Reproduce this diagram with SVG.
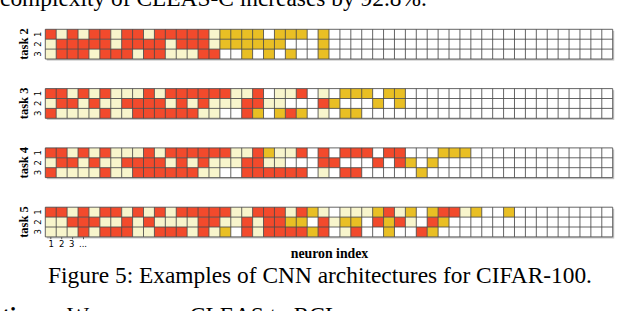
<svg xmlns="http://www.w3.org/2000/svg" xmlns:xlink="http://www.w3.org/1999/xlink" width="640" height="311" viewBox="0 0 640 311">
<style>
.r{fill:#F24A2C}
.c{fill:#F8F5CC}
.y{fill:#E9BF24}
.bg{fill:#ffffff}
.sh{fill:#c4c4c4}
.grid{fill:none;stroke:#4a4a4a;stroke-opacity:0.85;stroke-width:1}
.body{font-family:"Liberation Serif","Times New Roman",serif;font-size:23.4px;fill:#000}
.task{font-family:"Liberation Serif","Times New Roman",serif;font-size:12.5px;font-weight:bold;fill:#000}
.rl{font-family:"DejaVu Sans","Liberation Sans",sans-serif;font-size:8.5px;fill:#000}
.axis{font-family:"Liberation Serif","Times New Roman",serif;font-size:13.8px;font-weight:bold;fill:#000}
</style>
<defs>
<path id="gridlines" class="grid" vector-effect="non-scaling-stroke" d="M0 0H52M0 1H52M0 2H52M0 3H52M0 0V3M1 0V3M2 0V3M3 0V3M4 0V3M5 0V3M6 0V3M7 0V3M8 0V3M9 0V3M10 0V3M11 0V3M12 0V3M13 0V3M14 0V3M15 0V3M16 0V3M17 0V3M18 0V3M19 0V3M20 0V3M21 0V3M22 0V3M23 0V3M24 0V3M25 0V3M26 0V3M27 0V3M28 0V3M29 0V3M30 0V3M31 0V3M32 0V3M33 0V3M34 0V3M35 0V3M36 0V3M37 0V3M38 0V3M39 0V3M40 0V3M41 0V3M42 0V3M43 0V3M44 0V3M45 0V3M46 0V3M47 0V3M48 0V3M49 0V3M50 0V3M51 0V3M52 0V3"/>
<g id="base"><rect class="sh" x="0.14" y="0.16" width="52" height="3"/><rect class="bg" x="0" y="0" width="52" height="3"/></g>
</defs>

<text class="body" x="0" y="6">complexity of CLEAS-C increases by 92.8%.</text>

<g id="task2">
<text class="task" transform="translate(28,44) rotate(-90)" text-anchor="middle">task 2</text>
<g class="rl" text-anchor="middle">
<text transform="translate(40.5,34.2) rotate(-90)">1</text>
<text transform="translate(40.5,44.1) rotate(-90)">2</text>
<text transform="translate(40.5,54) rotate(-90)">3</text>
</g>
<g transform="translate(45.3,29.3) scale(10.9115,9.9)">
<use xlink:href="#base"/>
<rect class="r" x="0" y="0" width="1" height="1"/><rect class="c" x="1" y="0" width="1" height="1"/><rect class="r" x="2" y="0" width="1" height="1"/><rect class="c" x="3" y="0" width="1" height="1"/><rect class="r" x="4" y="0" width="2" height="1"/><rect class="c" x="6" y="0" width="1" height="1"/><rect class="r" x="7" y="0" width="2" height="1"/><rect class="c" x="9" y="0" width="1" height="1"/><rect class="r" x="10" y="0" width="5" height="1"/><rect class="c" x="15" y="0" width="1" height="1"/><rect class="y" x="16" y="0" width="4" height="1"/><rect class="y" x="21" y="0" width="3" height="1"/><rect class="y" x="25" y="0" width="1" height="1"/>
<rect class="c" x="0" y="1" width="1" height="1"/><rect class="r" x="1" y="1" width="5" height="1"/><rect class="c" x="6" y="1" width="1" height="1"/><rect class="r" x="7" y="1" width="4" height="1"/><rect class="c" x="11" y="1" width="1" height="1"/><rect class="r" x="12" y="1" width="3" height="1"/><rect class="c" x="15" y="1" width="1" height="1"/><rect class="y" x="16" y="1" width="6" height="1"/><rect class="y" x="25" y="1" width="1" height="1"/>
<rect class="c" x="0" y="2" width="1" height="1"/><rect class="r" x="1" y="2" width="3" height="1"/><rect class="c" x="4" y="2" width="1" height="1"/><rect class="r" x="5" y="2" width="3" height="1"/><rect class="c" x="8" y="2" width="1" height="1"/><rect class="r" x="9" y="2" width="2" height="1"/><rect class="c" x="11" y="2" width="3" height="1"/><rect class="r" x="14" y="2" width="2" height="1"/><rect class="y" x="18" y="2" width="1" height="1"/><rect class="y" x="20" y="2" width="1" height="1"/><rect class="y" x="22" y="2" width="1" height="1"/><rect class="y" x="25" y="2" width="1" height="1"/>
<use xlink:href="#gridlines"/>
</g>
</g>

<g id="task3">
<text class="task" transform="translate(28,103.4) rotate(-90)" text-anchor="middle">task 3</text>
<g class="rl" text-anchor="middle">
<text transform="translate(40.5,93.5) rotate(-90)">1</text>
<text transform="translate(40.5,103.4) rotate(-90)">2</text>
<text transform="translate(40.5,113.3) rotate(-90)">3</text>
</g>
<g transform="translate(45.3,88.6) scale(10.9115,9.9)">
<use xlink:href="#base"/>
<rect class="r" x="0" y="0" width="2" height="1"/><rect class="c" x="2" y="0" width="1" height="1"/><rect class="r" x="3" y="0" width="1" height="1"/><rect class="c" x="4" y="0" width="1" height="1"/><rect class="r" x="5" y="0" width="1" height="1"/><rect class="c" x="6" y="0" width="3" height="1"/><rect class="r" x="9" y="0" width="1" height="1"/><rect class="c" x="10" y="0" width="1" height="1"/><rect class="r" x="11" y="0" width="6" height="1"/><rect class="c" x="17" y="0" width="2" height="1"/><rect class="r" x="19" y="0" width="1" height="1"/><rect class="c" x="21" y="0" width="2" height="1"/><rect class="r" x="23" y="0" width="1" height="1"/><rect class="c" x="25" y="0" width="1" height="1"/><rect class="y" x="27" y="0" width="3" height="1"/><rect class="y" x="31" y="0" width="2" height="1"/>
<rect class="c" x="0" y="1" width="1" height="1"/><rect class="r" x="1" y="1" width="2" height="1"/><rect class="c" x="3" y="1" width="1" height="1"/><rect class="r" x="4" y="1" width="1" height="1"/><rect class="c" x="5" y="1" width="2" height="1"/><rect class="r" x="7" y="1" width="4" height="1"/><rect class="c" x="11" y="1" width="1" height="1"/><rect class="r" x="12" y="1" width="1" height="1"/><rect class="c" x="13" y="1" width="1" height="1"/><rect class="r" x="14" y="1" width="1" height="1"/><rect class="c" x="15" y="1" width="3" height="1"/><rect class="r" x="18" y="1" width="2" height="1"/><rect class="c" x="20" y="1" width="2" height="1"/><rect class="r" x="25" y="1" width="1" height="1"/><rect class="y" x="26" y="1" width="1" height="1"/><rect class="y" x="30" y="1" width="1" height="1"/><rect class="y" x="32" y="1" width="1" height="1"/>
<rect class="r" x="0" y="2" width="1" height="1"/><rect class="c" x="1" y="2" width="4" height="1"/><rect class="r" x="5" y="2" width="1" height="1"/><rect class="c" x="6" y="2" width="2" height="1"/><rect class="r" x="8" y="2" width="6" height="1"/><rect class="c" x="14" y="2" width="2" height="1"/><rect class="r" x="18" y="2" width="1" height="1"/><rect class="y" x="19" y="2" width="1" height="1"/><rect class="y" x="21" y="2" width="1" height="1"/><rect class="r" x="22" y="2" width="1" height="1"/><rect class="y" x="23" y="2" width="1" height="1"/><rect class="c" x="25" y="2" width="1" height="1"/><rect class="y" x="27" y="2" width="2" height="1"/>
<use xlink:href="#gridlines"/>
</g>
</g>

<g id="task4">
<text class="task" transform="translate(28,162.7) rotate(-90)" text-anchor="middle">task 4</text>
<g class="rl" text-anchor="middle">
<text transform="translate(40.5,152.8) rotate(-90)">1</text>
<text transform="translate(40.5,162.7) rotate(-90)">2</text>
<text transform="translate(40.5,172.6) rotate(-90)">3</text>
</g>
<g transform="translate(45.3,147.9) scale(10.9115,9.9)">
<use xlink:href="#base"/>
<rect class="r" x="0" y="0" width="2" height="1"/><rect class="c" x="2" y="0" width="1" height="1"/><rect class="r" x="3" y="0" width="1" height="1"/><rect class="c" x="4" y="0" width="1" height="1"/><rect class="r" x="5" y="0" width="1" height="1"/><rect class="c" x="6" y="0" width="3" height="1"/><rect class="r" x="9" y="0" width="1" height="1"/><rect class="c" x="10" y="0" width="1" height="1"/><rect class="r" x="11" y="0" width="6" height="1"/><rect class="c" x="17" y="0" width="2" height="1"/><rect class="r" x="19" y="0" width="1" height="1"/><rect class="y" x="20" y="0" width="1" height="1"/><rect class="c" x="21" y="0" width="2" height="1"/><rect class="r" x="23" y="0" width="1" height="1"/><rect class="r" x="25" y="0" width="1" height="1"/><rect class="r" x="27" y="0" width="3" height="1"/><rect class="r" x="31" y="0" width="2" height="1"/><rect class="y" x="36" y="0" width="3" height="1"/>
<rect class="c" x="0" y="1" width="1" height="1"/><rect class="r" x="1" y="1" width="2" height="1"/><rect class="c" x="3" y="1" width="1" height="1"/><rect class="r" x="4" y="1" width="1" height="1"/><rect class="c" x="5" y="1" width="2" height="1"/><rect class="r" x="7" y="1" width="4" height="1"/><rect class="c" x="11" y="1" width="1" height="1"/><rect class="r" x="12" y="1" width="1" height="1"/><rect class="c" x="13" y="1" width="1" height="1"/><rect class="r" x="14" y="1" width="1" height="1"/><rect class="c" x="15" y="1" width="3" height="1"/><rect class="r" x="18" y="1" width="2" height="1"/><rect class="c" x="20" y="1" width="2" height="1"/><rect class="r" x="25" y="1" width="2" height="1"/><rect class="r" x="30" y="1" width="1" height="1"/><rect class="r" x="32" y="1" width="1" height="1"/><rect class="y" x="33" y="1" width="1" height="1"/><rect class="y" x="35" y="1" width="1" height="1"/>
<rect class="r" x="0" y="2" width="1" height="1"/><rect class="c" x="1" y="2" width="4" height="1"/><rect class="r" x="5" y="2" width="1" height="1"/><rect class="c" x="6" y="2" width="2" height="1"/><rect class="r" x="8" y="2" width="6" height="1"/><rect class="c" x="14" y="2" width="2" height="1"/><rect class="r" x="18" y="2" width="6" height="1"/><rect class="c" x="25" y="2" width="1" height="1"/><rect class="r" x="27" y="2" width="2" height="1"/><rect class="y" x="34" y="2" width="1" height="1"/>
<use xlink:href="#gridlines"/>
</g>
</g>

<g id="task5">
<text class="task" transform="translate(28,222) rotate(-90)" text-anchor="middle">task 5</text>
<g class="rl" text-anchor="middle">
<text transform="translate(40.5,212.1) rotate(-90)">1</text>
<text transform="translate(40.5,222) rotate(-90)">2</text>
<text transform="translate(40.5,231.9) rotate(-90)">3</text>
</g>
<g transform="translate(45.3,207.2) scale(10.9115,9.9)">
<use xlink:href="#base"/>
<rect class="r" x="0" y="0" width="2" height="1"/><rect class="c" x="2" y="0" width="1" height="1"/><rect class="r" x="3" y="0" width="1" height="1"/><rect class="c" x="4" y="0" width="1" height="1"/><rect class="r" x="5" y="0" width="2" height="1"/><rect class="c" x="7" y="0" width="1" height="1"/><rect class="r" x="8" y="0" width="1" height="1"/><rect class="c" x="9" y="0" width="1" height="1"/><rect class="r" x="10" y="0" width="1" height="1"/><rect class="c" x="11" y="0" width="1" height="1"/><rect class="r" x="12" y="0" width="5" height="1"/><rect class="c" x="17" y="0" width="2" height="1"/><rect class="r" x="19" y="0" width="3" height="1"/><rect class="c" x="22" y="0" width="1" height="1"/><rect class="r" x="23" y="0" width="1" height="1"/><rect class="y" x="24" y="0" width="1" height="1"/><rect class="c" x="25" y="0" width="1" height="1"/><rect class="c" x="27" y="0" width="3" height="1"/><rect class="y" x="30" y="0" width="1" height="1"/><rect class="r" x="31" y="0" width="1" height="1"/><rect class="c" x="32" y="0" width="1" height="1"/><rect class="y" x="33" y="0" width="1" height="1"/><rect class="y" x="35" y="0" width="1" height="1"/><rect class="r" x="36" y="0" width="2" height="1"/><rect class="c" x="38" y="0" width="1" height="1"/><rect class="y" x="39" y="0" width="1" height="1"/><rect class="y" x="42" y="0" width="1" height="1"/>
<rect class="c" x="0" y="1" width="2" height="1"/><rect class="r" x="2" y="1" width="3" height="1"/><rect class="c" x="5" y="1" width="2" height="1"/><rect class="r" x="7" y="1" width="1" height="1"/><rect class="c" x="8" y="1" width="1" height="1"/><rect class="r" x="9" y="1" width="1" height="1"/><rect class="c" x="10" y="1" width="4" height="1"/><rect class="r" x="14" y="1" width="2" height="1"/><rect class="c" x="16" y="1" width="2" height="1"/><rect class="r" x="18" y="1" width="1" height="1"/><rect class="c" x="19" y="1" width="1" height="1"/><rect class="r" x="20" y="1" width="2" height="1"/><rect class="y" x="22" y="1" width="2" height="1"/><rect class="r" x="25" y="1" width="1" height="1"/><rect class="c" x="26" y="1" width="1" height="1"/><rect class="y" x="27" y="1" width="2" height="1"/><rect class="r" x="30" y="1" width="1" height="1"/><rect class="y" x="31" y="1" width="1" height="1"/><rect class="r" x="32" y="1" width="1" height="1"/><rect class="c" x="33" y="1" width="1" height="1"/><rect class="r" x="35" y="1" width="1" height="1"/><rect class="y" x="36" y="1" width="1" height="1"/>
<rect class="c" x="0" y="2" width="3" height="1"/><rect class="r" x="3" y="2" width="1" height="1"/><rect class="c" x="4" y="2" width="1" height="1"/><rect class="r" x="5" y="2" width="3" height="1"/><rect class="c" x="8" y="2" width="2" height="1"/><rect class="r" x="10" y="2" width="3" height="1"/><rect class="c" x="13" y="2" width="1" height="1"/><rect class="r" x="14" y="2" width="1" height="1"/><rect class="c" x="15" y="2" width="1" height="1"/><rect class="y" x="16" y="2" width="1" height="1"/><rect class="r" x="18" y="2" width="1" height="1"/><rect class="c" x="19" y="2" width="1" height="1"/><rect class="r" x="20" y="2" width="4" height="1"/><rect class="y" x="24" y="2" width="1" height="1"/><rect class="r" x="25" y="2" width="1" height="1"/><rect class="c" x="27" y="2" width="1" height="1"/><rect class="r" x="28" y="2" width="1" height="1"/><rect class="y" x="31" y="2" width="1" height="1"/><rect class="r" x="34" y="2" width="1" height="1"/><rect class="y" x="35" y="2" width="1" height="1"/>
<use xlink:href="#gridlines"/>
</g>
<g stroke="#333" stroke-width="0.8">
<path d="M50.8 237.2V239.2M61.7 237.2V239.2M72.6 237.2V239.2M83.5 237.2V239.2"/>
</g>
<g class="rl" text-anchor="middle">
<text x="51.3" y="246.6">1</text>
<text x="61.7" y="246.6">2</text>
<text x="71.8" y="246.6">3</text>
<text x="83" y="246.6">...</text>
</g>
</g>

<text class="axis" x="329.5" y="258.3" text-anchor="middle">neuron index</text>
<text class="body" x="320" y="283" text-anchor="middle">Figure 5: Examples of CNN architectures for CIFAR-100.</text>
<text class="body" x="2" y="322.5"><tspan font-weight="bold">tions.</tspan></text>
<text class="body" x="67" y="322.5">We compare CLEAS to RCL</text>
</svg>
